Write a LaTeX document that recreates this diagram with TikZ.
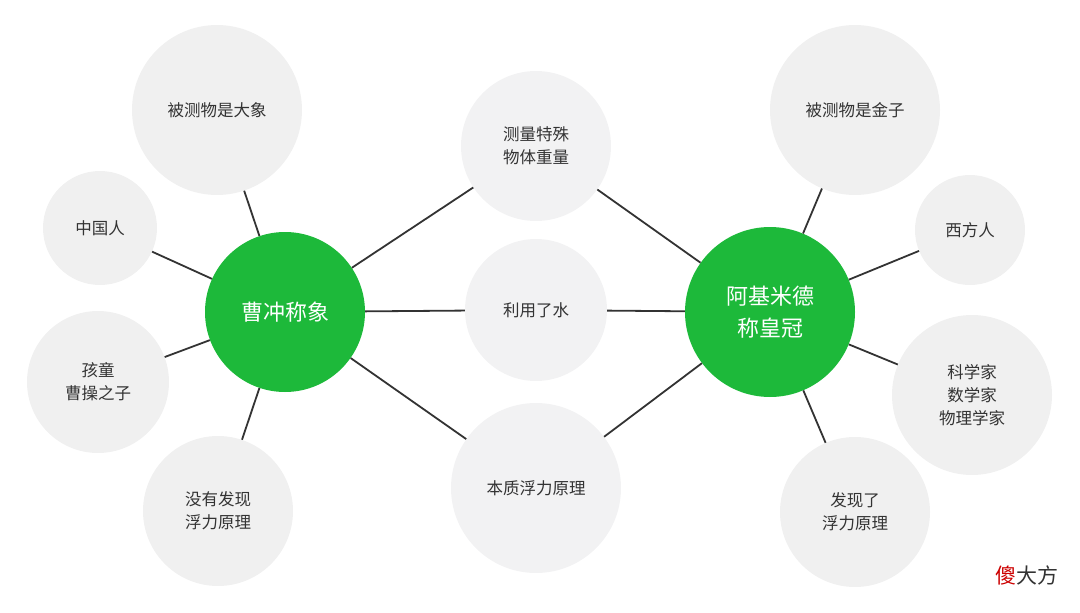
\documentclass[tikz,border=0pt]{standalone}
\usepackage{fontspec}
\setmainfont{Noto Sans CJK SC}
\begin{document}
\begin{tikzpicture}[x=1pt,y=-1pt,
  g/.style={circle,fill=gray!12,inner sep=0pt,align=center,font=\fontsize{16.5}{23}\selectfont,text=black!80},
  m/.style={circle,fill=blue!5!gray!10,inner sep=0pt,align=center,font=\fontsize{16.5}{23}\selectfont,text=black!80},
  hub/.style={circle,fill=green!65!black!90!white,inner sep=0pt,align=center,text=white,font=\fontsize{22}{32}\selectfont},
  ln/.style={draw=black!80,line width=1.8pt}]
\useasboundingbox (0,0) rectangle (1080,613);
\definecolor{hubc}{HTML}{1DB93A}
\node[g,minimum size=170] (a1) at (217,110) {被测物是大象};
\node[g,minimum size=114] (a2) at (100,228) {中国人};
\node[g,minimum size=142] (a3) at (98,382) {孩童\\曹操之子};
\node[g,minimum size=150] (a4) at (218,511) {没有发现\\浮力原理};
\node[hub,fill=hubc,minimum size=160] (A) at (285,312) {曹冲称象};
\node[m,minimum size=150] (m1) at (536,146) {测量特殊\\物体重量};
\node[m,minimum size=142] (m2) at (536,310) {利用了水};
\node[m,minimum size=170] (m3) at (536,488) {本质浮力原理};
\node[hub,fill=hubc,minimum size=170] (B) at (770,312) {阿基米德\\称皇冠};
\node[g,minimum size=170] (b1) at (855,110) {被测物是金子};
\node[g,minimum size=110] (b2) at (970,230) {西方人};
\node[g,minimum size=160] (b3) at (972,395) {科学家\\数学家\\物理学家};
\node[g,minimum size=150] (b4) at (855,512) {发现了\\浮力原理};
\foreach \n in {a1,a2,a3,a4,m1,m2,m3} \draw[ln] (A) -- (\n);
\foreach \n in {b1,b2,b3,b4,m1,m2,m3} \draw[ln] (B) -- (\n);
\node[font=\fontsize{21}{24}\selectfont,anchor=east] (wm) at (1062,575) {\textcolor{red!80!black}{傻}\textcolor{black!80}{大方}};
\end{tikzpicture}
\end{document}
